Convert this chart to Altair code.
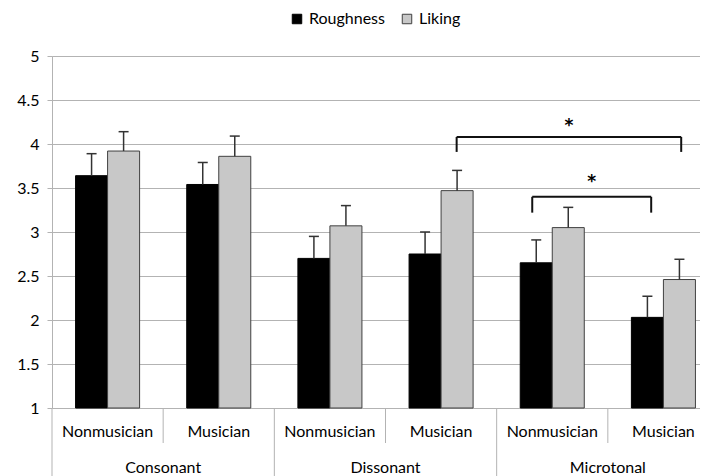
import altair as alt
import pandas as pd

# ---- data ----
categories = ["Consonant", "Dissonant", "Microtonal"]
participants = ["Nonmusician", "Musician"]
series = ["Roughness", "Liking"]
roughness = [3.64, 3.54, 2.70, 2.75, 2.65, 2.03]
roughness_err = [0.25, 0.25, 0.25, 0.25, 0.26, 0.24]
liking = [3.92, 3.86, 3.07, 3.47, 3.05, 2.46]
liking_err = [0.22, 0.23, 0.23, 0.23, 0.23, 0.23]
y_ticks = [1, 1.5, 2, 2.5, 3, 3.5, 4, 4.5, 5]
# significance brackets (x in group units, y in rating units)
bracket_x1 = [3.64, 4.32]
bracket_x2 = [5.66, 5.39]
bracket_y = [4.08, 3.40]
bracket_drop = [3.91, 3.22]
bracket_star_y = [4.24, 3.60]

# ---- styling constants ----
FONT = "Lato"
FS = 16
BW = 0.288      # bar width in group units
CAP = 0.045     # half cap width in group units
W, H = 648, 352

rows = []
for i in range(6):
    c = i + 0.5
    rows.append(dict(series="Roughness", x1=c - BW, x2=c, xc=c - BW / 2,
                     value=roughness[i], top=roughness[i] + roughness_err[i]))
    rows.append(dict(series="Liking", x1=c, x2=c + BW, xc=c + BW / 2,
                     value=liking[i], top=liking[i] + liking_err[i]))
df = pd.DataFrame(rows)
df["cap1"] = df["xc"] - CAP
df["cap2"] = df["xc"] + CAP

xscale = alt.Scale(domain=[0, 6], range=[0, 667], nice=False, zero=False)
yscale = alt.Scale(domain=[1, 5], nice=False, zero=False)

bars = alt.Chart(df).mark_bar(strokeWidth=1).encode(
    x=alt.X("x1:Q", scale=xscale, axis=None),
    x2="x2:Q",
    y=alt.Y("value:Q", scale=yscale, title=None,
            axis=alt.Axis(values=y_ticks, labelExpr="'' + datum.value",
                          grid=True, gridColor="#b3b3b3", gridWidth=1,
                          domainColor="#b3b3b3", tickColor="#b3b3b3",
                          tickSize=5, labelPadding=8, labelFontSize=FS,
                          labelFont=FONT, labelColor="#000000")),
    y2=alt.datum(1),
    color=alt.Color("series:N", scale=alt.Scale(domain=series, range=["#000000", "#c8c8c8"]),
                    title=None,
                    legend=alt.Legend(orient="none", legendX=237, legendY=-45,
                                      direction="horizontal", symbolType="square",
                                      symbolSize=90, labelFontSize=FS, labelFont=FONT,
                                      labelColor="#000000", columnPadding=14,
                                      labelOffset=4, symbolStrokeWidth=1,
                                      labelLimit=200)),
    stroke=alt.Stroke("series:N", scale=alt.Scale(domain=series, range=["#000000", "#404040"]),
                      title=None),
)

err_line = alt.Chart(df).mark_rule(color="#333333", strokeWidth=1.5).encode(
    x=alt.X("xc:Q", scale=xscale), y=alt.Y("value:Q", scale=yscale), y2="top:Q")
err_cap = alt.Chart(df).mark_rule(color="#333333", strokeWidth=1.5).encode(
    x=alt.X("cap1:Q", scale=xscale), x2="cap2:Q", y=alt.Y("top:Q", scale=yscale))

# brackets
br = pd.DataFrame(dict(x1=bracket_x1, x2=bracket_x2, y=bracket_y, drop=bracket_drop,
                       star=bracket_star_y))
br["mid"] = (br["x1"] + br["x2"]) / 2
br["label"] = "*"
drops = pd.concat([
    pd.DataFrame(dict(x=br["x1"], y=br["y"], drop=br["drop"])),
    pd.DataFrame(dict(x=br["x2"], y=br["y"], drop=br["drop"])),
])
br_h = alt.Chart(br).mark_rule(color="#111111", strokeWidth=2).encode(
    x=alt.X("x1:Q", scale=xscale), x2="x2:Q", y=alt.Y("y:Q", scale=yscale))
br_v = alt.Chart(drops).mark_rule(color="#111111", strokeWidth=2).encode(
    x=alt.X("x:Q", scale=xscale), y=alt.Y("y:Q", scale=yscale), y2="drop:Q")
stars = alt.Chart(br).mark_text(fontSize=17, font="DejaVu Sans", fontWeight="bold",
                                color="#000000", baseline="middle", dy=3).encode(
    x=alt.X("mid:Q", scale=xscale), y=alt.Y("star:Q", scale=yscale), text="label:N")

# two-level category axis
sep = pd.DataFrame(dict(pos=list(range(7)),
                        major=[i % 2 == 0 for i in range(7)]))
sep_minor = alt.Chart(sep[~sep["major"]]).mark_rule(color="#b3b3b3", strokeWidth=1).encode(
    x=alt.X("pos:Q", scale=xscale), y=alt.value(H), y2=alt.value(H + 35))
sep_major = alt.Chart(sep[sep["major"]]).mark_rule(color="#b3b3b3", strokeWidth=1).encode(
    x=alt.X("pos:Q", scale=xscale), y=alt.value(H), y2=alt.value(H + 80))

lab1 = pd.DataFrame(dict(pos=[i + 0.5 for i in range(6)],
                         label=[participants[i % 2] for i in range(6)]))
lab2 = pd.DataFrame(dict(pos=[2 * j + 1 for j in range(3)], label=categories))
t1 = alt.Chart(lab1).mark_text(fontSize=FS, font=FONT, color="#000000", baseline="middle").encode(
    x=alt.X("pos:Q", scale=xscale), y=alt.value(H + 24), text="label:N")
t2 = alt.Chart(lab2).mark_text(fontSize=FS, font=FONT, color="#000000", baseline="middle").encode(
    x=alt.X("pos:Q", scale=xscale), y=alt.value(H + 60), text="label:N")

chart = alt.layer(bars, err_line, err_cap, br_h, br_v, stars,
                  sep_minor, sep_major, t1, t2).properties(
    width=W, height=H,
    autosize=alt.AutoSizeParams(type="none"),
    padding={"left": 44, "top": 48, "right": 0, "bottom": 68},
).configure_view(stroke=None).configure(background="white")

chart.save("out.html", embed_options={"renderer": "svg", "actions": False})
